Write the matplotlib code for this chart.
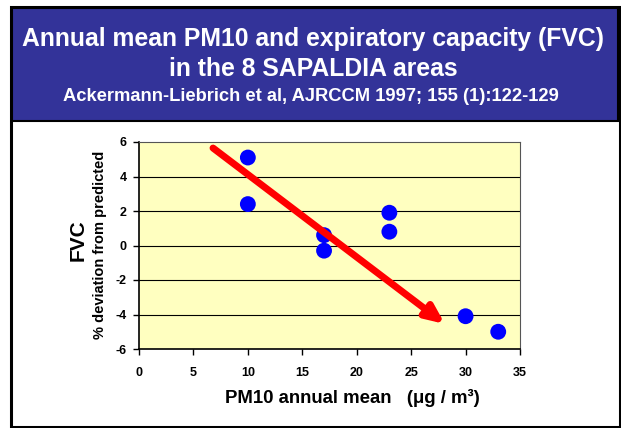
#!/usr/bin/env python3
"""Annual mean PM10 vs FVC deviation in the 8 SAPALDIA areas (slide recreation)."""

import matplotlib
matplotlib.use("Agg")
import matplotlib.pyplot as plt
from matplotlib.patches import Rectangle, FancyArrowPatch

plt.rcParams["font.family"] = ["Liberation Sans", "DejaVu Sans"]
plt.rcParams["font.weight"] = "bold"
plt.rcParams["axes.unicode_minus"] = False

# data
pm10 = [10, 10, 17, 17, 23, 23, 30, 33]
fvc_dev = [5.1, 2.4, 0.6, -0.3, 1.9, 0.8, -4.1, -5.0]
trend_start = (6.8, 5.65)
trend_end = (28.1, -4.55)
xticks = [0, 5, 10, 15, 20, 25, 30, 35]
yticks = [-6, -4, -2, 0, 2, 4, 6]

W, H = 621, 428
fig = plt.figure(figsize=(W / 100, H / 100), dpi=100)
fig.patch.set_facecolor("white")


def px(x, y):
    """pixel (from top-left) -> figure fraction"""
    return x / W, 1 - y / H


# slide frame and title band
fig.add_artist(Rectangle(px(11, 427), 609 / W, 420 / H, transform=fig.transFigure,
                         facecolor="white", edgecolor="black", lw=2.2, zorder=0))
fig.add_artist(Rectangle(px(12, 121), 606 / W, 113 / H, transform=fig.transFigure,
                         facecolor="#333399", edgecolor="black", lw=1.5, zorder=1))

fig.text(*px(313, 46), "Annual mean PM10 and expiratory capacity (FVC)",
         ha="center", va="baseline", color="white", fontsize=17.8, fontweight="bold")
fig.text(*px(313, 76), "in the 8 SAPALDIA areas",
         ha="center", va="baseline", color="white", fontsize=17.8, fontweight="bold")
fig.text(*px(311, 101), "Ackermann-Liebrich et al, AJRCCM 1997; 155 (1):122-129",
         ha="center", va="baseline", color="white", fontsize=13.2, fontweight="bold")

ax = fig.add_axes([139 / W, 79 / H, 381 / W, 207 / H])
ax.set_facecolor("#ffffc0")
ax.set_xlim(0, 35)
ax.set_ylim(-6, 6)
ax.set_xticks(xticks)
ax.set_yticks(yticks)
ax.tick_params(direction="out", length=4, width=1, labelsize=9)
ax.tick_params(axis="x", pad=9)
ax.tick_params(axis="y", pad=5)
for lab in ax.get_xticklabels() + ax.get_yticklabels():
    lab.set_fontweight("bold")
for y in yticks[1:-1]:
    ax.axhline(y, color="black", lw=0.8, zorder=1)
for side in ("top", "right"):
    ax.spines[side].set_color("#555555")
for side in ("left", "bottom"):
    ax.spines[side].set_color("black")
    ax.spines[side].set_linewidth(1.2)

ax.scatter(pm10, fvc_dev, s=130, color="#0000ff", edgecolors="none", zorder=3)

ax.add_patch(FancyArrowPatch(trend_start, trend_end,
                             arrowstyle="-|>,head_length=0.9,head_width=0.4",
                             mutation_scale=12, color="#ff0000", lw=5, zorder=4,
                             shrinkA=0, shrinkB=0))

fig.text(*px(352, 398), "PM10 annual mean   (\u03bcg / m\u00b3)", ha="center", va="center",
         fontsize=13.4, fontweight="bold")
fig.text(*px(78, 240), "FVC", rotation=90, ha="center", va="center",
         fontsize=15, fontweight="bold")
fig.text(*px(100, 245), "% deviation from predicted", rotation=90, ha="center",
         va="center", fontsize=10.5, fontweight="bold")

fig.savefig("out.png", dpi=100)
